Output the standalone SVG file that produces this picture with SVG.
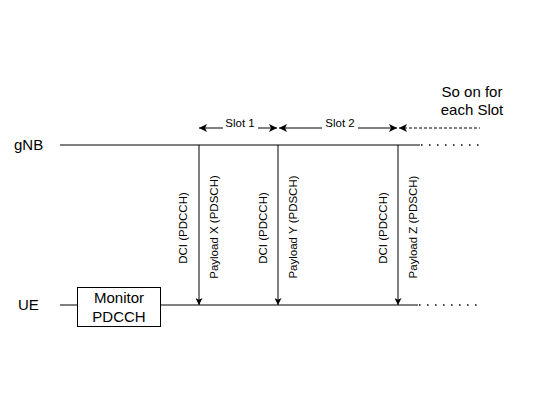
<svg xmlns="http://www.w3.org/2000/svg" width="535" height="400" viewBox="0 0 535 400">
<style>
text{font-family:"Liberation Sans",Arial,sans-serif;fill:#000}
.big{font-size:15px}
.lbl{font-size:11.5px}
.ln{stroke:#000;stroke-width:1;fill:none}
.dots{stroke:#000;stroke-width:1.5;stroke-dasharray:1.5 6.5;fill:none}
.dash{stroke:#000;stroke-width:1;stroke-dasharray:3 2;fill:none}
</style>
<defs>
<marker id="ah" viewBox="0 0 10 10" refX="10" refY="5" markerWidth="7" markerHeight="7" markerUnits="userSpaceOnUse" orient="auto-start-reverse">
<path d="M0,0 L10,5 L0,10 L2.5,5 Z" fill="#000"/>
</marker>
<marker id="ah2" viewBox="0 0 10 10" refX="10" refY="5" markerWidth="8" markerHeight="8" markerUnits="userSpaceOnUse" orient="auto-start-reverse">
<path d="M0,0 L10,5 L0,10 L2.5,5 Z" fill="#000"/>
</marker>
</defs>
<rect width="535" height="400" fill="#fff"/>
<g id="gnb">
<text class="big" x="14" y="150">gNB</text>
<line class="ln" x1="60" y1="145" x2="420" y2="145"/>
<line class="dots" x1="421" y1="145" x2="480" y2="145"/>
</g>
<g id="ue">
<text class="big" x="18" y="310">UE</text>
<line class="ln" x1="60" y1="305" x2="77" y2="305"/>
<line class="ln" x1="161" y1="305" x2="418" y2="305"/>
<line class="dots" x1="419" y1="305" x2="480" y2="305"/>
</g>
<g id="monitor">
<rect x="77.5" y="287.5" width="83" height="39" fill="#fff" stroke="#000"/>
<text class="big" x="119" y="303" text-anchor="middle">Monitor</text>
<text class="big" x="119" y="322" text-anchor="middle">PDCCH</text>
</g>
<g id="note">
<text class="big" x="472" y="97" text-anchor="middle">So on for</text>
<text class="big" x="472" y="115" text-anchor="middle">each Slot</text>
</g>
<g id="connectors">
<line class="ln" x1="199" y1="145" x2="199" y2="305" marker-end="url(#ah)"/>
<line class="ln" x1="278" y1="145" x2="278" y2="305" marker-end="url(#ah)"/>
<line class="ln" x1="398" y1="145" x2="398" y2="305" marker-end="url(#ah)"/>
<line class="ln" x1="199" y1="128" x2="277" y2="128" marker-start="url(#ah2)" marker-end="url(#ah2)"/>
<line class="ln" x1="279" y1="128" x2="397" y2="128" marker-start="url(#ah2)" marker-end="url(#ah2)"/>
<line class="dash" x1="399" y1="128" x2="480" y2="128" marker-start="url(#ah2)"/>
</g>
<g id="slot-labels">
<rect x="223" y="117" width="35" height="13" fill="#fff"/>
<text class="lbl" x="240" y="127" text-anchor="middle">Slot 1</text>
<rect x="322" y="117" width="36" height="13" fill="#fff"/>
<text class="lbl" x="340" y="127" text-anchor="middle">Slot 2</text>
</g>
<g id="msg-labels">
<text class="lbl" transform="translate(183,228) rotate(-90)" text-anchor="middle" dominant-baseline="central">DCI (PDCCH)</text>
<text class="lbl" transform="translate(214,227) rotate(-90)" text-anchor="middle" dominant-baseline="central">Payload X (PDSCH)</text>
<text class="lbl" transform="translate(262.5,228) rotate(-90)" text-anchor="middle" dominant-baseline="central">DCI (PDCCH)</text>
<text class="lbl" transform="translate(293,227) rotate(-90)" text-anchor="middle" dominant-baseline="central">Payload Y (PDSCH)</text>
<text class="lbl" transform="translate(382.5,228) rotate(-90)" text-anchor="middle" dominant-baseline="central">DCI (PDCCH)</text>
<text class="lbl" transform="translate(413,227) rotate(-90)" text-anchor="middle" dominant-baseline="central">Payload Z (PDSCH)</text>
</g>
</svg>
